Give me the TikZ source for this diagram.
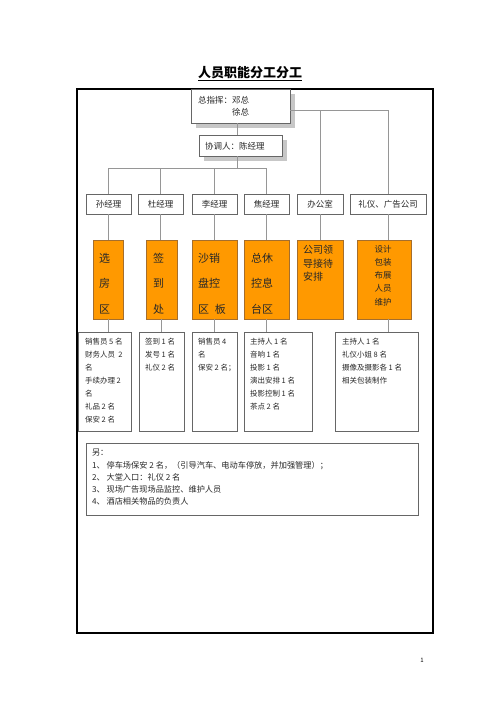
\documentclass[tikz,border=0pt]{standalone}
\usepackage{fontspec}
\setmainfont{Noto Sans CJK SC}
\usetikzlibrary{shadows}
\definecolor{org}{RGB}{255,153,0}
\definecolor{orgline}{RGB}{165,110,45}
\definecolor{connc}{RGB}{150,150,150}
\definecolor{txt}{RGB}{40,40,40}
\begin{document}
\begin{tikzpicture}[x=1pt,y=-1pt,
 connector/.style={draw=connc, line width=0.9pt},
 boxw/.style={draw=black!60, fill=white, line width=0.7pt, inner sep=0, outer sep=0, text=txt},
 shadowbox/.style={boxw, drop shadow={shadow xshift=5pt, shadow yshift=-5pt, fill=black!22, opacity=1}},
 orgbox/.style={draw=orgline, fill=org, line width=0.7pt, inner sep=0, outer sep=0},
 txtnode/.style={inner sep=0, outer sep=0, text=txt, align=left},
 mgr/.style={boxw, minimum height=20pt, font=\fontsize{8.5}{10}\selectfont},
 detail/.style={boxw, minimum height=99pt},
 dtext/.style={txtnode, anchor=north west, font=\fontsize{7.5}{13}\selectfont},
 bigtext/.style={txtnode, anchor=north west, font=\fontsize{11}{25.5}\selectfont},
]
\fill[white] (0,0) rectangle (500,707);
\useasboundingbox (0,0) rectangle (500,707);

% title
\node[font=\fontsize{13}{15}\selectfont\bfseries, inner sep=0] (title) at (250,74) {\underline{人员职能分工分工}};

% frame
\draw[line width=1.2pt] (77,89) rectangle (433,633);
\draw[line width=2.4pt] (433,89) -- (433,633) -- (77,633);

% top boxes
\node[shadowbox, minimum width=99pt, minimum height=34pt] (zzh) at (240.5,106) {};
\node[txtnode, anchor=north west, font=\fontsize{8.5}{12}\selectfont] (zzht) at (198,96.2) {总指挥：邓总\\\phantom{总指挥：}徐总};
\node[shadowbox, minimum width=83pt, minimum height=21pt] (xtr) at (240.5,145.5) {};
\node[txtnode, anchor=west, font=\fontsize{8.5}{10}\selectfont] (xtrt) at (205,146) {协调人：陈经理};

% managers
\node[mgr, minimum width=45pt] (m1) at (108.5,204) {孙经理};
\node[mgr, minimum width=45pt] (m2) at (160.5,204) {杜经理};
\node[mgr, minimum width=45pt] (m3) at (214.5,204) {李经理};
\node[mgr, minimum width=45pt] (m4) at (266.5,204) {焦经理};
\node[mgr, minimum width=46pt] (m5) at (320,204) {办公室};
\node[mgr, minimum width=76pt] (m6) at (388,204) {礼仪、广告公司};

% orange boxes
\node[orgbox, minimum width=30pt, minimum height=79pt] (o1) at (108,279.5) {};
\node[orgbox, minimum width=31pt, minimum height=79pt] (o2) at (161.5,279.5) {};
\node[orgbox, minimum width=45pt, minimum height=79pt] (o3) at (214.5,279.5) {};
\node[orgbox, minimum width=45pt, minimum height=79pt] (o4) at (266.5,279.5) {};
\node[orgbox, minimum width=46pt, minimum height=79pt] (o5) at (320,279.5) {};
\node[orgbox, minimum width=54pt, minimum height=79pt] (o6) at (384,279.5) {};

\node[bigtext] (o1t) at (99,253) {选\\房\\区};
\node[bigtext] (o2t) at (153,253) {签\\到\\处};
\node[bigtext] (o3t) at (198,253) {沙销\\盘控\\区\hspace{6pt}板};
\node[bigtext] (o4t) at (251,253) {总休\\控息\\台区};
\node[txtnode, anchor=north west, font=\fontsize{10}{13.5}\selectfont] (o5t) at (303,245.5) {公司领\\导接待\\安排};
\node[txtnode, anchor=north, align=center, font=\fontsize{8.5}{13.25}\selectfont] (o6t) at (383,245) {设计\\包装\\布展\\人员\\维护};

% detail boxes
\node[detail, minimum width=53pt] (d1) at (104.5,381.5) {};
\node[detail, minimum width=45pt] (d2) at (161.5,381.5) {};
\node[detail, minimum width=45pt] (d3) at (214.5,381.5) {};
\node[detail, minimum width=68pt] (d4) at (278,381.5) {};
\node[detail, minimum width=83pt] (d5) at (376.5,381.5) {};

\node[dtext] (d1t) at (85,338.6) {销售员 5 名\\财务人员\ \ 2\\名\\手续办理 2\\名\\礼品 2 名\\保安 2 名};
\node[dtext] (d2t) at (145,338.6) {签到 1 名\\发号 1 名\\礼仪 2 名};
\node[dtext] (d3t) at (198,338.6) {销售员 4\\名\\保安 2 名；};
\node[dtext] (d4t) at (250,338.6) {主持人 1 名\\音响 1 名\\投影 1 名\\演出安排 1 名\\投影控制 1 名\\茶点 2 名};
\node[dtext] (d5t) at (342,338.6) {主持人 1 名\\礼仪小姐 8 名\\摄像及摄影各 1 名\\相关包装制作};

% note box
\node[boxw, minimum width=332pt, minimum height=72pt] (note) at (252,479) {};
\node[txtnode, anchor=north west, font=\fontsize{8.2}{12.25}\selectfont] (notet) at (92,449.4) {另：\\1、\ 停车场保安 2 名，（引导汽车、电动车停放，并加强管理）；\\2、\ 大堂入口：礼仪 2 名\\3、\ 现场广告现场品监控、维护人员\\4、\ 酒店相关物品的负责人};

% page number
\node[font=\fontsize{6}{7}\selectfont, inner sep=0] (pg) at (422,660) {1};

% connectors
\coordinate (lbus) at (237,168);
\coordinate (rbus) at (388,110);
\draw[connector] (zzh.south -| lbus) -- (xtr.north -| lbus);
\draw[connector] (xtr.south -| lbus) -- (lbus);
\draw[connector] (m1.north) -- (m1.north |- lbus) -- (m4.north |- lbus) -- (m4.north);
\draw[connector] (m2.north) -- (m2.north |- lbus);
\draw[connector] (m3.north) -- (m3.north |- lbus);
\draw[connector] (zzh.east |- rbus) -- (rbus) -- (m6.north);
\draw[connector] (m5.north) -- (m5.north |- rbus);

\draw[connector] (m1.south) -- (m1.south |- o1.north);
\draw[connector] (m2.south) -- (m2.south |- o2.north);
\draw[connector] (m3.south) -- (m3.south |- o3.north);
\draw[connector] (m4.south) -- (m4.south |- o4.north);
\draw[connector] (m5.south) -- (m5.south |- o5.north);
\draw[connector] (m6.south) -- (m6.south |- o6.north);

\draw[connector] (o1.south) -- (o1.south |- d1.north);
\draw[connector] (o2.south) -- (o2.south |- d2.north);
\draw[connector] (o3.south) -- (o3.south |- d3.north);
\draw[connector] (o4.south) -- (o4.south |- d4.north);
\draw[connector] (m6.south |- o6.south) -- (m6.south |- d5.north);
\end{tikzpicture}
\end{document}
